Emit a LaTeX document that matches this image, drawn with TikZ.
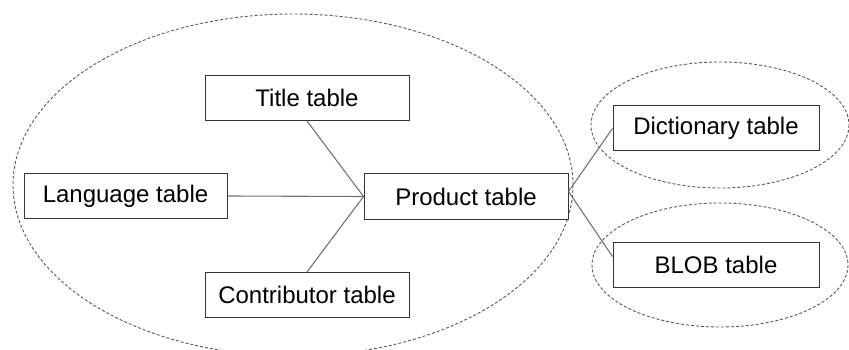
\documentclass[tikz,border=0pt]{standalone}
\usepackage{fontspec}
\setmainfont{Liberation Sans}
\begin{document}
\begin{tikzpicture}[x=1pt,y=-1pt,
  tbl/.style={draw=black!80, line width=1pt, fill=white, inner sep=0pt,
    minimum height=45pt, font=\fontsize{24}{28}\selectfont},
  link/.style={draw=black!55, line width=1.1pt},
  grp/.style={draw=black!65, line width=0.9pt, dash pattern=on 3pt off 2pt}]
\useasboundingbox (0,0) rectangle (849,350);
\draw[grp] (293,185) ellipse [x radius=280, y radius=171];
\draw[grp] (720,125) ellipse [x radius=129, y radius=63];
\draw[grp] (720,265) ellipse [x radius=128, y radius=62];
\node[tbl, minimum width=204pt] (T) at (307,98) {Title table};
\node[tbl, minimum width=203pt] (L) at (125.5,196) {Language table};
\node[tbl, minimum width=204pt] (P) at (466,196.5) {Product table};
\node[tbl, minimum width=204pt] (C) at (307,295) {Contributor table};
\node[tbl, minimum width=206pt] (D) at (716,128.5) {Dictionary table};
\node[tbl, minimum width=206pt] (B) at (716,264.5) {BLOB table};
\draw[link] (P.west) -- (T.south);
\draw[link] (P.west) -- (L.east);
\draw[link] (P.west) -- (C.north);
\draw[link] ([yshift=5pt]P.east) -- (D.west);
\draw[link] ([yshift=5pt]P.east) -- ([yshift=8pt]B.west);
\end{tikzpicture}
\end{document}
